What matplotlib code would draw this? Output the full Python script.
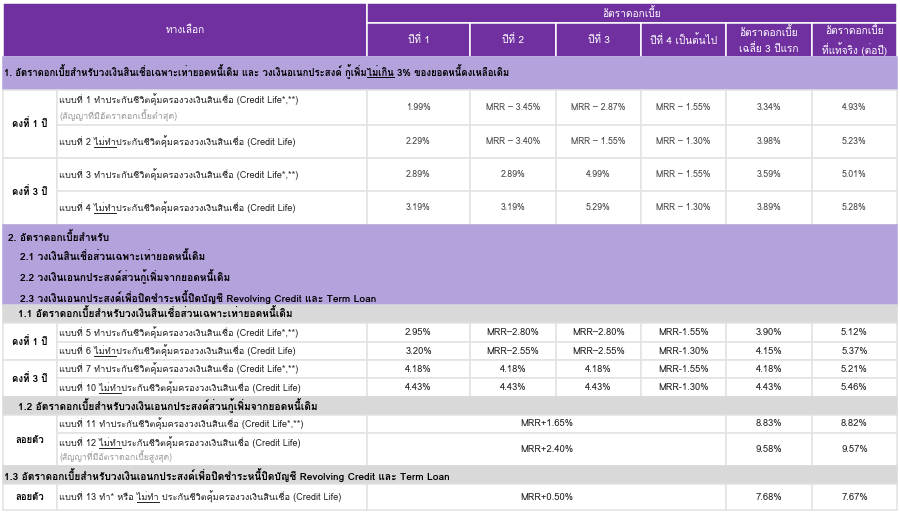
import matplotlib
matplotlib.use("Agg")
import matplotlib.pyplot as plt
from matplotlib.patches import Rectangle
from matplotlib import font_manager
from matplotlib.ft2font import FT2Font

# ---- data ----
header_left = "ทางเลือก"
header_group = "อัตราดอกเบี้ย"
header_cols = ["ปีที่ 1", "ปีที่ 2", "ปีที่ 3", "ปีที่ 4 เป็นต้นไป",
               "อัตราดอกเบี้ย\nเฉลี่ย 3 ปีแรก", "อัตราดอกเบี้ย\nที่แท้จริง (ต่อปี)"]

section1 = "1. อัตราดอกเบี้ยสำหรับวงเงินสินเชื่อเฉพาะเท่ายอดหนี้เดิม และ วงเงินอเนกประสงค์ กู้เพิ่ม_ไม่เกิน_ 3% ของยอดหนี้คงเหลือเดิม"
groups_a = ["คงที่ 1 ปี", "คงที่ 3 ปี"]
plans_a = ["แบบที่ 1 ทำประกันชีวิตคุ้มครองวงเงินสินเชื่อ (Credit Life*,**)",
           "แบบที่ 2 _ไม่ทำ_ประกันชีวิตคุ้มครองวงเงินสินเชื่อ (Credit Life)",
           "แบบที่ 3 ทำประกันชีวิตคุ้มครองวงเงินสินเชื่อ (Credit Life*,**)",
           "แบบที่ 4 _ไม่ทำ_ประกันชีวิตคุ้มครองวงเงินสินเชื่อ (Credit Life)"]
note_low = "(สัญญาที่มีอัตราดอกเบี้ยต่ำสุด)"
rates_a = [["1.99%", "MRR – 3.45%", "MRR – 2.87%", "MRR – 1.55%", "3.34%", "4.93%"],
           ["2.29%", "MRR – 3.40%", "MRR – 1.55%", "MRR – 1.30%", "3.98%", "5.23%"],
           ["2.89%", "2.89%", "4.99%", "MRR – 1.55%", "3.59%", "5.01%"],
           ["3.19%", "3.19%", "5.29%", "MRR – 1.30%", "3.89%", "5.28%"]]

section2 = ["2. อัตราดอกเบี้ยสำหรับ",
            "2.1 วงเงินสินเชื่อส่วนเฉพาะเท่ายอดหนี้เดิม",
            "2.2 วงเงินเอนกประสงค์ส่วนกู้เพิ่มจากยอดหนี้เดิม",
            "2.3 วงเงินเอนกประสงค์เพื่อปิดชำระหนี้ปิดบัญชี Revolving Credit และ Term Loan"]

sub11 = "1.1 อัตราดอกเบี้ยสำหรับวงเงินสินเชื่อส่วนเฉพาะเท่ายอดหนี้เดิม"
groups_b = ["คงที่ 1 ปี", "คงที่ 3 ปี"]
plans_b = ["แบบที่ 5 ทำประกันชีวิตคุ้มครองวงเงินสินเชื่อ (Credit Life*,**)",
           "แบบที่ 6 _ไม่ทำ_ประกันชีวิตคุ้มครองวงเงินสินเชื่อ (Credit Life)",
           "แบบที่ 7 ทำประกันชีวิตคุ้มครองวงเงินสินเชื่อ (Credit Life*,**)",
           "แบบที่ 10 _ไม่ทำ_ประกันชีวิตคุ้มครองวงเงินสินเชื่อ (Credit Life)"]
rates_b = [["2.95%", "MRR–2.80%", "MRR–2.80%", "MRR-1.55%", "3.90%", "5.12%"],
           ["3.20%", "MRR–2.55%", "MRR–2.55%", "MRR-1.30%", "4.15%", "5.37%"],
           ["4.18%", "4.18%", "4.18%", "MRR-1.55%", "4.18%", "5.21%"],
           ["4.43%", "4.43%", "4.43%", "MRR-1.30%", "4.43%", "5.46%"]]

sub12 = "1.2 อัตราดอกเบี้ยสำหรับวงเงินเอนกประสงค์ส่วนกู้เพิ่มจากยอดหนี้เดิม"
group_c = "ลอยตัว"
plans_c = ["แบบที่ 11 ทำประกันชีวิตคุ้มครองวงเงินสินเชื่อ (Credit Life*,**)",
           "แบบที่ 12 _ไม่ทำ_ประกันชีวิตคุ้มครองวงเงินสินเชื่อ (Credit Life)"]
note_high = "(สัญญาที่มีอัตราดอกเบี้ยสูงสุด)"
rates_c = [["MRR+1.65%", "8.83%", "8.82%"],
           ["MRR+2.40%", "9.58%", "9.57%"]]

sub13 = "1.3 อัตราดอกเบี้ยสำหรับวงเงินเอนกประสงค์เพื่อปิดชำระหนี้ปิดบัญชี Revolving Credit และ Term Loan"
group_d = "ลอยตัว"
plan_d = "แบบที่ 13 ทำ* หรือ _ไม่ทำ_ ประกันชีวิตคุ้มครองวงเงินสินเชื่อ (Credit Life)"
rates_d = ["MRR+0.50%", "7.68%", "7.67%"]


# ---- font with Thai glyphs, if any ----
def find_thai_font():
    for f in font_manager.fontManager.ttflist:
        try:
            cmap = FT2Font(f.fname).get_charmap()
        except Exception:
            continue
        if 0x0E01 in cmap:
            return f.name
    return None

thai = find_thai_font()
fam = [thai, "DejaVu Sans"] if thai else ["DejaVu Sans"]
plt.rcParams["font.family"] = fam

# ---- layout ----
PURPLE = "#7030a0"
LILAC = "#b3a2dc"
GREY = "#d9d9d9"
LINE = "#e2e2e2"
FS = 6.6        # body text
FS_B = 7.3      # bold section text
FS_VAL = 6.8    # values, lower block
col_x = [3, 57, 367, 470, 556, 641, 726, 812, 897]

fig = plt.figure(figsize=(9, 5.13), dpi=100)
ax = fig.add_axes([0, 0, 1, 1])
ax.set_xlim(0, 900)
ax.set_ylim(513, 0)
ax.axis("off")
renderer = fig.canvas.get_renderer()


def cell(x0, x1, y0, y1, fc="white", ec=LINE, lw=1.1):
    ax.add_patch(Rectangle((x0, y0), x1 - x0, y1 - y0, facecolor=fc,
                           edgecolor=ec, linewidth=lw))


def text_right(x, y, s, **kw):
    # x position (data) where string s would end
    t = ax.text(x, y, s, va="center", ha="left", **kw)
    bb = t.get_window_extent(renderer)
    t.remove()
    return ax.transData.inverted().transform([[bb.x1, bb.y0]])[0][0]


def rich(x, y, s, size=FS, color="#222222", weight="normal"):
    # one string; the part between '_' gets an underline
    kw = dict(fontsize=size, color=color, weight=weight)
    parts = s.split("_")
    ax.text(x, y, "".join(parts), va="center", ha="left", **kw)
    if len(parts) == 3:
        xa = text_right(x, y, parts[0] + "|", **kw) - (
            text_right(x, y, "|", **kw) - x) if parts[0] else x
        xb = text_right(x, y, parts[0] + parts[1], **kw)
        ax.plot([xa, xb], [y + 5, y + 5], color=color, lw=0.7)


def group_label(y0, y1, s):
    cell(col_x[0], col_x[1], y0, y1)
    ax.text((col_x[0] + col_x[1]) / 2, (y0 + y1) / 2, s, fontsize=6.9,
            weight="bold", ha="center", va="center", color="black")


# header
cell(col_x[0], col_x[2], 3, 57, PURPLE, "white")
cell(col_x[2], col_x[-1], 3, 23, PURPLE, "white")
ax.text((col_x[0] + col_x[2]) / 2, 30, header_left, color="white",
        fontsize=7.3, ha="center", va="center")
ax.text((col_x[2] + col_x[-1]) / 2, 13, header_group, color="white",
        fontsize=7.3, ha="center", va="center")
for j, h in enumerate(header_cols):
    cell(col_x[j + 2], col_x[j + 3], 23, 57, PURPLE, "white")
    ax.text((col_x[j + 2] + col_x[j + 3]) / 2, 40, h, color="white",
            fontsize=7.3, ha="center", va="center", linespacing=1.55)

# section 1
cell(col_x[0], col_x[-1], 57, 90, LILAC, LILAC)
rich(4, 72, section1, size=6.9, color="black", weight="bold")

rows_a = [90, 125, 158, 191, 225]
for g in range(2):
    group_label(rows_a[2 * g], rows_a[2 * g + 2], groups_a[g])
for r in range(4):
    y0, y1 = rows_a[r], rows_a[r + 1]
    cell(col_x[1], col_x[2], y0, y1)
    ym = (y0 + y1) / 2
    if r == 0:
        rich(59, 100, plans_a[r])
        ax.text(59, 116, note_low, fontsize=6.5, color="#9a9a9a", va="center")
    else:
        rich(59, ym, plans_a[r])
    for j, v in enumerate(rates_a[r]):
        cell(col_x[j + 2], col_x[j + 3], y0, y1)
        ax.text((col_x[j + 2] + col_x[j + 3]) / 2, ym, v, fontsize=6.3,
                color="#444444", ha="center", va="center")

# section 2
cell(col_x[0], col_x[-1], 225, 305, LILAC, LILAC)
for k, s in enumerate(section2):
    rich(8 if k == 0 else 20, 237 + 20 * k, s, size=FS_B, color="black", weight="bold")

# 1.1
cell(col_x[0], col_x[-1], 305, 323, GREY, GREY)
rich(18, 314, sub11, size=FS_B, color="black", weight="bold")
rows_b = [323, 342, 360, 378, 397]
for g in range(2):
    group_label(rows_b[2 * g], rows_b[2 * g + 2], groups_b[g])
for r in range(4):
    y0, y1 = rows_b[r], rows_b[r + 1]
    ym = (y0 + y1) / 2
    cell(col_x[1], col_x[2], y0, y1)
    rich(59, ym, plans_b[r])
    for j, v in enumerate(rates_b[r]):
        cell(col_x[j + 2], col_x[j + 3], y0, y1)
        ax.text((col_x[j + 2] + col_x[j + 3]) / 2, ym, v, fontsize=FS_VAL,
                color="#222222", ha="center", va="center")

# 1.2
cell(col_x[0], col_x[-1], 397, 415, GREY, GREY)
rich(18, 406, sub12, size=FS_B, color="black", weight="bold")
rows_c = [415, 433, 466]
group_label(415, 466, group_c)
spans = [(col_x[2], col_x[6]), (col_x[6], col_x[7]), (col_x[7], col_x[8])]
for r in range(2):
    y0, y1 = rows_c[r], rows_c[r + 1]
    cell(col_x[1], col_x[2], y0, y1)
    yt = 424 if r == 0 else 443
    rich(59, yt, plans_c[r])
    if r == 1:
        ax.text(59, 457, note_high, fontsize=6.3, color="#9a9a9a", va="center")
    for (a, b), v in zip(spans, rates_c[r]):
        cell(a, b, y0, y1)
        ax.text((a + b) / 2, (y0 + y1) / 2, v, fontsize=FS_VAL,
                color="#222222", ha="center", va="center")

# 1.3
cell(col_x[0], col_x[-1], 466, 484, GREY, GREY)
rich(4, 475, sub13, size=FS_B, color="black", weight="bold")
group_label(484, 510, group_d)
cell(col_x[1], col_x[2], 484, 510)
rich(59, 497, plan_d)
for (a, b), v in zip(spans, rates_d):
    cell(a, b, 484, 510)
    ax.text((a + b) / 2, 497, v, fontsize=FS_VAL, color="#222222",
            ha="center", va="center")

fig.savefig("out.png", dpi=100)
